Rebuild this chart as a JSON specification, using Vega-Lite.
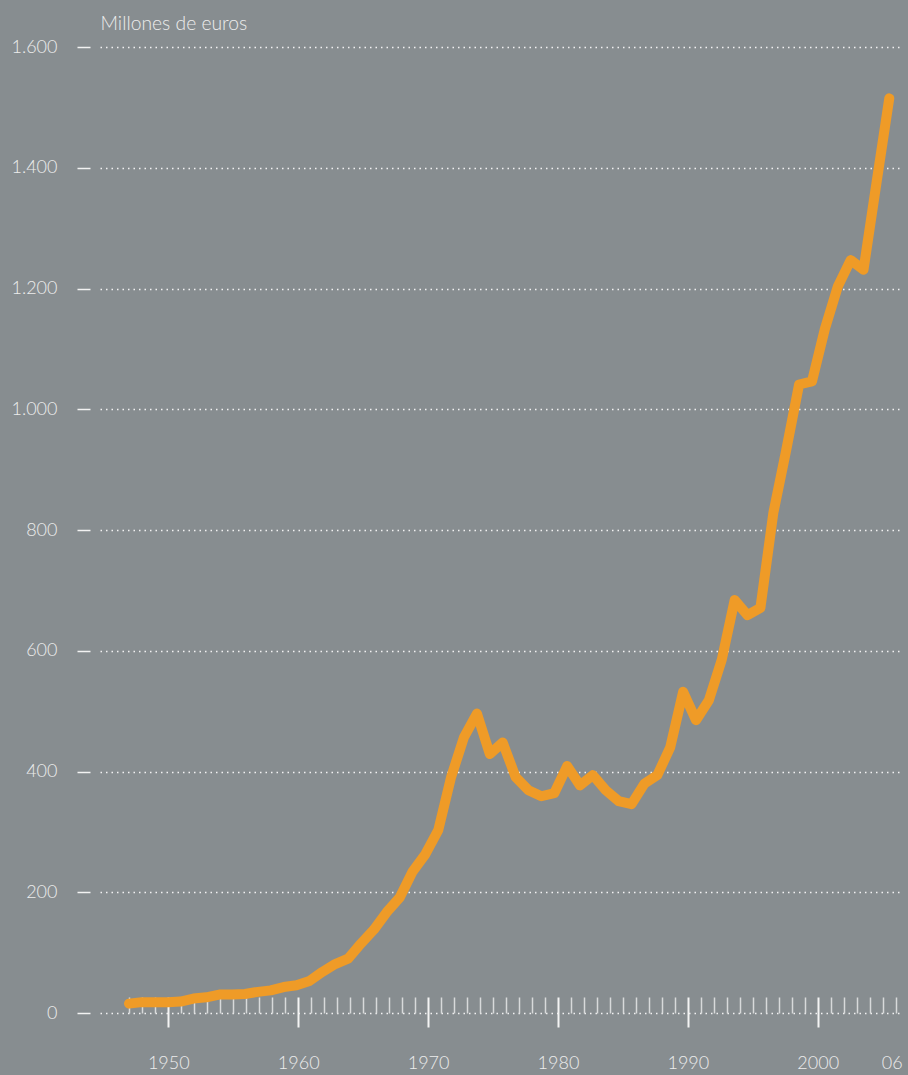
{
  "$schema": "https://vega.github.io/schema/vega-lite/v6.json",
  "width": 802,
  "height": 966,
  "autosize": "none",
  "padding": {"left": 100, "top": 47, "right": 6, "bottom": 62},
  "background": "#878d90",
  "config": {
    "view": {"stroke": null},
    "font": "Lato",
    "axis": {"labelFont": "Lato", "labelFontWeight": 300, "titleFont": "Lato", "titleFontWeight": 300}
  },
  "data": {
    "values": [
      {"year": 1947, "value": 15.5},
      {"year": 1948, "value": 18},
      {"year": 1949, "value": 18},
      {"year": 1950, "value": 18},
      {"year": 1951, "value": 19},
      {"year": 1952, "value": 24},
      {"year": 1953, "value": 26},
      {"year": 1954, "value": 30.5},
      {"year": 1955, "value": 30.5},
      {"year": 1956, "value": 31.5},
      {"year": 1957, "value": 35},
      {"year": 1958, "value": 37.5},
      {"year": 1959, "value": 43},
      {"year": 1960, "value": 46},
      {"year": 1961, "value": 53},
      {"year": 1962, "value": 68},
      {"year": 1963, "value": 81},
      {"year": 1964, "value": 90},
      {"year": 1965, "value": 115},
      {"year": 1966, "value": 138},
      {"year": 1967, "value": 167},
      {"year": 1968, "value": 191},
      {"year": 1969, "value": 234},
      {"year": 1970, "value": 263},
      {"year": 1971, "value": 303},
      {"year": 1972, "value": 391},
      {"year": 1973, "value": 457},
      {"year": 1974, "value": 496},
      {"year": 1975, "value": 429},
      {"year": 1976, "value": 448},
      {"year": 1977, "value": 391},
      {"year": 1978, "value": 369},
      {"year": 1979, "value": 359},
      {"year": 1980, "value": 364},
      {"year": 1981, "value": 409},
      {"year": 1982, "value": 377},
      {"year": 1983, "value": 394},
      {"year": 1984, "value": 369},
      {"year": 1985, "value": 351},
      {"year": 1986, "value": 346},
      {"year": 1987, "value": 380},
      {"year": 1988, "value": 394},
      {"year": 1989, "value": 440},
      {"year": 1990, "value": 532},
      {"year": 1991, "value": 485},
      {"year": 1992, "value": 518},
      {"year": 1993, "value": 585},
      {"year": 1994, "value": 684},
      {"year": 1995, "value": 659},
      {"year": 1996, "value": 671},
      {"year": 1997, "value": 828},
      {"year": 1998, "value": 932},
      {"year": 1999, "value": 1041},
      {"year": 2000, "value": 1046},
      {"year": 2001, "value": 1133},
      {"year": 2002, "value": 1203},
      {"year": 2003, "value": 1247},
      {"year": 2004, "value": 1231},
      {"year": 2005, "value": 1374},
      {"year": 2006, "value": 1515}
    ]
  },
  "layer": [
    {
      "mark": {"type": "line", "color": "#ef9b27", "strokeWidth": 10, "strokeCap": "round", "strokeJoin": "round"},
      "encoding": {
        "x": {"field": "year", "type": "quantitative", "scale": {"domain": [1944.749, 2006.987], "nice": false, "zero": false}, "axis": null},
        "y": {
          "field": "value", "type": "quantitative",
          "scale": {"domain": [0, 1600], "nice": false},
          "axis": {
            "values": [0, 200, 400, 600, 800, 1000, 1200, 1400, 1600],
            "labelExpr": "replace(format(datum.value, ','), ',', '.')",
            "offset": 10,
            "domain": false,
            "tickSize": 13,
            "tickColor": "#f2f2f2",
            "tickWidth": 1.5,
            "labelPadding": 20,
            "labelFontSize": 18,
            "labelColor": "#ececec",
            "grid": true,
            "gridColor": "#f2f2f2",
            "gridDash": [1.5, 4],
            "gridWidth": 1.5,
            "title": "Millones de euros",
            "titleAngle": 0,
            "titleAlign": "left",
            "titleBaseline": "alphabetic",
            "titleX": 10,
            "titleY": -18,
            "titleFontSize": 19.3,
            "titleColor": "#ececec"
          }
        }
      }
    },
    {
      "mark": {"type": "point", "opacity": 0},
      "encoding": {
        "x": {
          "field": "year", "type": "quantitative",
          "scale": {"domain": [1944.741, 2006.49], "nice": false, "zero": false},
          "axis": {
            "values": [1947, 1948, 1949, 1951, 1952, 1953, 1954, 1955, 1956, 1957, 1958, 1959, 1961, 1962, 1963, 1964, 1965, 1966, 1967, 1968, 1969, 1971, 1972, 1973, 1974, 1975, 1976, 1977, 1978, 1979, 1981, 1982, 1983, 1984, 1985, 1986, 1987, 1988, 1989, 1991, 1992, 1993, 1994, 1995, 1996, 1997, 1998, 1999, 2001, 2002, 2003, 2004, 2005, 2006],
            "orient": "bottom",
            "offset": -16,
            "tickSize": 16,
            "tickWidth": 1.5,
            "tickColor": "#d8dadb",
            "labels": false,
            "domain": false,
            "grid": false,
            "title": null
          }
        }
      }
    },
    {
      "mark": {"type": "point", "opacity": 0},
      "encoding": {
        "x": {
          "field": "year", "type": "quantitative",
          "scale": {"domain": [1944.741, 2006.49], "nice": false, "zero": false},
          "axis": {
            "values": [1950, 1960, 1970, 1980, 1990, 2000, 2006],
            "labelExpr": "datum.value == 2006 ? '06' : '' + datum.value",
            "orient": "bottom",
            "offset": -16,
            "tickSize": 30,
            "tickWidth": 2,
            "tickColor": "#f4f4f4",
            "tickOpacity": {"condition": {"test": "datum.value == 2006", "value": 0}, "value": 1},
            "labelOffset": {"condition": {"test": "datum.value == 2006", "value": -4}, "value": 0},
            "labelPadding": 41,
            "labelBaseline": "alphabetic",
            "labelFontSize": 18,
            "labelColor": "#ececec",
            "labelFlush": false,
            "labelOverlap": false,
            "domain": false,
            "grid": false,
            "title": null
          }
        }
      }
    }
  ],
  "resolve": {"scale": {"x": "independent"}, "axis": {"x": "independent"}}
}
